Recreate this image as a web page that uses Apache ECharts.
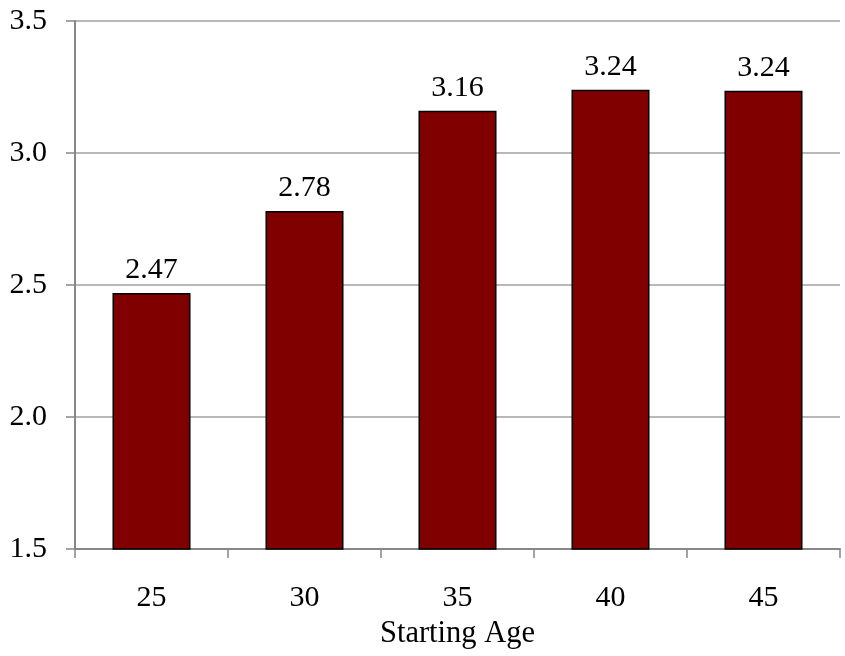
<!DOCTYPE html>
<html><head><meta charset="utf-8">
<script src="https://cdn.jsdelivr.net/npm/echarts@6/dist/echarts.min.js"></script>
<style>html,body{margin:0;padding:0;background:#fff}#c{width:845px;height:656px}</style>
</head><body><div id="c"></div>
<script>
const categories = ['25', '30', '35', '40', '45'];
const values = [2.47, 2.78, 3.16, 3.24, 3.236];
const yTicks = [1.5, 2.0, 2.5, 3.0, 3.5];
const xAxisTitle = 'Starting Age';

const font = '"Liberation Serif", "Times New Roman", serif';
const chart = echarts.init(document.getElementById('c'), null, {renderer: 'canvas'});
chart.setOption({
  animation: false,
  grid: {left: 75, right: 5, top: 21, bottom: 107, containLabel: false},
  xAxis: {
    type: 'category',
    data: categories,
    name: xAxisTitle,
    nameLocation: 'middle',
    nameGap: 69,
    nameTextStyle: {fontFamily: font, fontSize: 30.5, color: '#000'},
    axisLine: {lineStyle: {color: '#878787', width: 2}},
    axisTick: {show: true, length: 9, lineStyle: {color: '#878787', width: 1.5}, alignWithLabel: false},
    axisLabel: {fontFamily: font, fontSize: 30, color: '#000', margin: 34},
    splitLine: {show: false}
  },
  yAxis: {
    type: 'value',
    min: yTicks[0],
    max: yTicks[yTicks.length - 1],
    interval: 0.5,
    axisLine: {show: true, lineStyle: {color: '#878787', width: 2}},
    axisTick: {show: true, length: 9, lineStyle: {color: '#878787', width: 1.5}},
    axisLabel: {fontFamily: font, fontSize: 30, color: '#000', margin: 28,
      formatter: v => v.toFixed(1)},
    splitLine: {show: true, lineStyle: {color: '#a0a0a0', width: 1.5}}
  },
  series: [{
    type: 'bar',
    data: values,
    barWidth: '51%',
    itemStyle: {color: '#800000', borderColor: '#000', borderWidth: 1.5},
    label: {show: true, position: 'top', distance: 8, fontFamily: font, fontSize: 30, color: '#000',
      formatter: p => p.value.toFixed(2)}
  }]
});
</script></body></html>
